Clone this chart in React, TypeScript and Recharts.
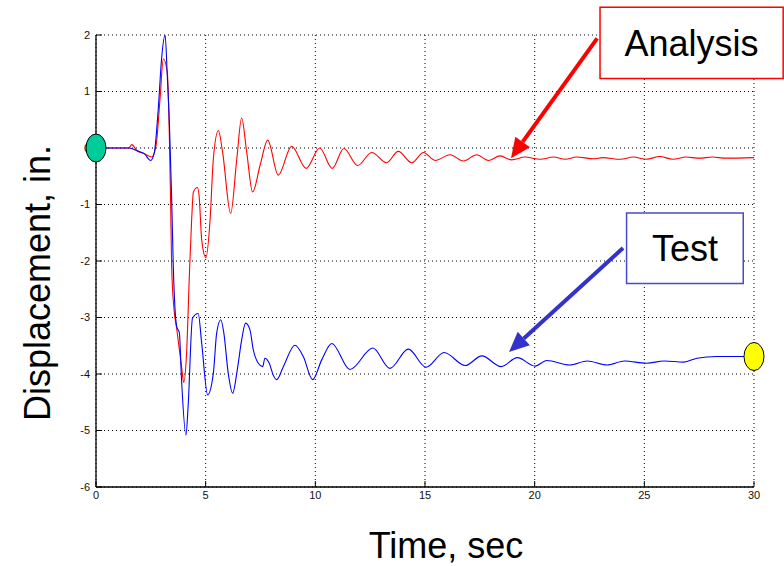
import {
  CartesianGrid,
  Line,
  LineChart,
  ReferenceArea,
  ReferenceDot,
  ReferenceLine,
  XAxis,
  YAxis,
} from "recharts";

const FONT = "'Liberation Sans', Arial, sans-serif";

const X_TICKS = [0, 5, 10, 15, 20, 25, 30];
const Y_TICKS = [-6, -5, -4, -3, -2, -1, 0, 1, 2];

// Test (blue) series
const testTime = [
  0, 1.5, 1.93, 2.2, 2.49, 2.65, 2.84, 2.99, 3.15, 3.25, 3.35, 3.45, 3.52, 3.68, 3.8, 3.9,
  4.1, 4.2, 4.4, 4.66, 4.82, 5.09, 5.35, 5.5, 5.69, 5.83, 6.03, 6.23, 6.44, 6.64, 6.82,
  7.02, 7.17, 7.4, 7.6, 7.7, 7.9, 8.08, 8.24, 8.54, 9.07, 9.45, 9.88, 10.29, 10.75, 11.58,
  12.62, 13.4, 14.24, 15.05, 15.87, 16.83, 17.59, 18.47, 19.21, 20.02, 20.55, 21.6, 22.4,
  23.3, 24.1, 25.1, 25.9, 26.8, 27.4, 28.3, 30,
];
const testDisp = [
  0, 0, -0.06, -0.1, -0.22, -0.1, 0.7, 1.58, 2.0, 1.28, 0.4, -0.9, -2.04, -3.16, -3.27, -4.1,
  -5.08, -4.57, -3.01, -2.93, -3.46, -4.37, -3.99, -3.28, -3.04, -3.28, -3.99, -4.34, -3.93,
  -3.4, -3.1, -3.22, -3.57, -3.81, -3.87, -3.72, -3.81, -4.02, -4.1, -3.87, -3.49, -3.69,
  -4.1, -3.75, -3.46, -3.92, -3.54, -3.9, -3.56, -3.88, -3.62, -3.85, -3.68, -3.87, -3.71,
  -3.86, -3.76, -3.84, -3.77, -3.84, -3.77, -3.81, -3.77, -3.79, -3.72, -3.69, -3.69,
];

// Analysis (red) series
const analysisTime = [
  0, 1.5, 1.63, 1.85, 2.2, 2.54, 2.74, 2.92, 3.07, 3.25, 3.35, 3.4, 3.45, 3.56, 3.68, 3.9,
  4.0, 4.13, 4.26, 4.36, 4.44, 4.62, 4.7, 4.82, 5.01, 5.2, 5.35, 5.58, 5.77, 6.14, 6.42,
  6.64, 6.87, 7.14, 7.48, 7.83, 8.31, 8.92, 9.58, 10.2, 10.77, 11.3, 11.93, 12.57, 13.25,
  13.78, 14.4, 14.93, 15.46, 16.14, 16.75, 17.36, 17.89, 18.42, 18.95, 19.56, 20.25, 20.86,
  21.4, 21.9, 22.7, 23.1, 23.9, 24.5, 25.1, 25.7, 26.3, 26.9, 27.5, 28.1, 28.7, 30,
];
const analysisDisp = [
  0, 0, 0.06, -0.04, -0.1, -0.16, 0.05, 0.87, 1.58, 1.34, 0.1, -0.92, -2.1, -2.87, -3.2,
  -3.87, -4.15, -3.63, -2.22, -1.28, -0.78, -0.7, -0.84, -1.63, -1.94, -1.28, -0.19, 0.31,
  -0.07, -1.16, -0.19, 0.53, -0.07, -0.78, -0.31, 0.14, -0.48, 0.03, -0.36, 0.0, -0.36,
  -0.01, -0.31, -0.08, -0.26, -0.06, -0.26, -0.08, -0.22, -0.12, -0.23, -0.12, -0.22, -0.14,
  -0.21, -0.16, -0.2, -0.16, -0.2, -0.16, -0.19, -0.17, -0.2, -0.16, -0.2, -0.15, -0.2,
  -0.16, -0.18, -0.16, -0.18, -0.17,
];

// callout boxes and arrows, in data units
const analysisBox = { x1: 22.98, x2: 31.33, y1: 1.23, y2: 2.49 };
const testBox = { x1: 24.19, x2: 29.51, y1: -2.4, y2: -1.15 };
const analysisArrow = [{ x: 22.85, y: 1.94 }, { x: 18.92, y: -0.18 }];
const testArrow = [{ x: 24.03, y: -1.77 }, { x: 18.83, y: -3.61 }];

const testData = testTime.map((t, i) => ({ t, v: testDisp[i] }));
const analysisData = analysisTime.map((t, i) => ({ t, v: analysisDisp[i] }));

const TM = 4;

const BottomTick = ({ x, y, payload }: any) => (
  <g>
    <line x1={x} x2={x} y1={y - TM} y2={y - TM - 6} stroke="#000" />
    <text x={x} y={y} dy="0.72em" textAnchor="middle" fontSize={11} fontFamily={FONT} fill="#111">
      {payload.value}
    </text>
  </g>
);

const LeftTick = ({ x, y, payload }: any) => (
  <g>
    <line x1={x + TM + 2} x2={x + TM + 8} y1={y} y2={y} stroke="#000" />
    <text x={x} y={y} dy="0.36em" textAnchor="end" fontSize={11} fontFamily={FONT} fill="#111">
      {payload.value}
    </text>
  </g>
);

const TopTick = ({ x, y }: any) => <line x1={x} x2={x} y1={y} y2={y + 6} stroke="#000" />;
const RightTick = ({ x, y }: any) => <line x1={x} x2={x - 6} y1={y} y2={y} stroke="#000" />;

function arrowShape(color: string) {
  return ({ x1, y1, x2, y2 }: any) => {
    const dx = x2 - x1;
    const dy = y2 - y1;
    const len = Math.hypot(dx, dy);
    const ux = dx / len;
    const uy = dy / len;
    const hl = 20;
    const hw = 9;
    const bx = x2 - ux * hl;
    const by = y2 - uy * hl;
    return (
      <g>
        <line x1={x1} y1={y1} x2={bx} y2={by} stroke={color} strokeWidth={4} />
        <polygon
          points={`${x2},${y2} ${bx - uy * hw},${by + ux * hw} ${bx + uy * hw},${by - ux * hw}`}
          fill={color}
        />
      </g>
    );
  };
}

const ellipse = (fill: string) => ({ cx, cy }: any) => (
  <ellipse cx={cx} cy={cy} rx={10} ry={14} fill={fill} stroke="#000" strokeWidth={1} />
);

export default function App() {
  return (
    <div style={{ position: "absolute", left: 0, top: 0, background: "#fff" }}>
      <LineChart width={784} height={566} margin={{ top: 35, right: 30, bottom: 0, left: 0 }}>
        <CartesianGrid stroke="#000" strokeDasharray="1 3" />
        <XAxis
          type="number"
          dataKey="t"
          domain={[0, 30]}
          ticks={X_TICKS}
          interval={0}
          height={79}
          tickSize={0}
          tickMargin={TM}
          tickLine={false}
          tick={<BottomTick />}
          axisLine={{ stroke: "#000", strokeWidth: 1.5 }}
          allowDataOverflow
          label={{
            content: ({ viewBox }: any) => (
              <text
                x={viewBox.x + viewBox.width / 2 + 21}
                y={558}
                textAnchor="middle"
                fontSize={36}
                fontFamily={FONT}
                fill="#000"
              >
                Time, sec
              </text>
            ),
          }}
        />
        <XAxis
          xAxisId="top"
          orientation="top"
          type="number"
          domain={[0, 30]}
          ticks={X_TICKS}
          interval={0}
          height={0}
          tickSize={0}
          tickMargin={0}
          tickLine={false}
          tick={<TopTick />}
          axisLine={{ stroke: "#000" }}
          allowDataOverflow
        />
        <YAxis
          type="number"
          domain={[-6, 2]}
          ticks={Y_TICKS}
          interval={0}
          width={96}
          tickSize={0}
          tickMargin={TM + 2}
          tickLine={false}
          tick={<LeftTick />}
          axisLine={{ stroke: "#000", strokeWidth: 1.3 }}
          allowDataOverflow
          label={{
            content: ({ viewBox }: any) => {
              const cx = 50;
              const cy = viewBox.y + viewBox.height / 2 + 22;
              return (
                <text
                  x={cx}
                  y={cy}
                  transform={`rotate(-90, ${cx}, ${cy})`}
                  textAnchor="middle"
                  fontSize={36}
                  fontFamily={FONT}
                  fill="#000"
                >
                  Displacement, in.
                </text>
              );
            },
          }}
        />
        <YAxis
          yAxisId="right"
          orientation="right"
          type="number"
          domain={[-6, 2]}
          ticks={Y_TICKS}
          interval={0}
          width={0}
          tickSize={0}
          tickMargin={0}
          tickLine={false}
          tick={<RightTick />}
          axisLine={{ stroke: "#000" }}
          allowDataOverflow
        />
        <Line
          data={analysisData}
          dataKey="v"
          type="monotone"
          stroke="#ff0000"
          strokeWidth={1.1}
          dot={false}
          isAnimationActive={false}
        />
        <Line
          data={testData}
          dataKey="v"
          type="monotone"
          stroke="#0000ff"
          strokeWidth={1.1}
          dot={false}
          isAnimationActive={false}
        />
        <ReferenceLine segment={analysisArrow} ifOverflow="visible" shape={arrowShape("#ff0000")} />
        <ReferenceLine segment={testArrow} ifOverflow="visible" shape={arrowShape("#3333cc")} />
        <ReferenceArea
          {...analysisBox}
          ifOverflow="visible"
          fill="#fff"
          fillOpacity={1}
          stroke="#ff0000"
          strokeWidth={1.5}
          label={{ value: "Analysis", position: "center", fontSize: 36, fill: "#000", fontFamily: FONT }}
        />
        <ReferenceArea
          {...testBox}
          ifOverflow="visible"
          fill="#fff"
          fillOpacity={1}
          stroke="#4a4acc"
          strokeWidth={1.5}
          label={{ value: "Test", position: "center", fontSize: 36, fill: "#000", fontFamily: FONT }}
        />
        <ReferenceDot
          x={analysisTime[0]}
          y={analysisDisp[0]}
          ifOverflow="visible"
          zIndex={2000}
          shape={ellipse("#00cc99")}
        />
        <ReferenceDot
          x={testTime[testTime.length - 1]}
          y={testDisp[testDisp.length - 1]}
          ifOverflow="visible"
          zIndex={2000}
          shape={ellipse("#ffff00")}
        />
      </LineChart>
    </div>
  );
}
